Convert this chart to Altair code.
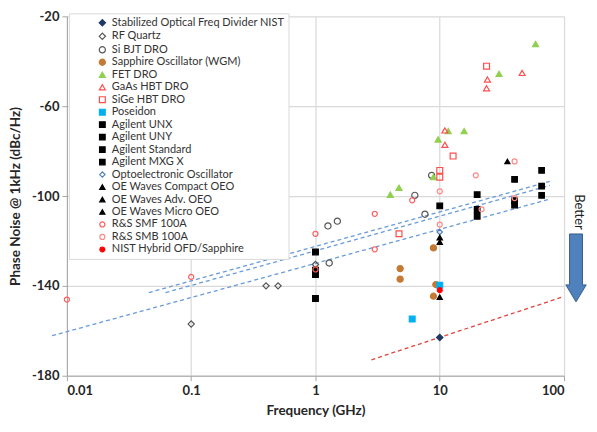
import altair as alt
import pandas as pd

series = ["Stabilized Optical Freq Divider NIST", "RF Quartz", "Si BJT DRO",
          "Sapphire Oscillator (WGM)", "FET DRO", "GaAs HBT DRO", "SiGe HBT DRO",
          "Poseidon", "Agilent UNX", "Agilent UNY", "Agilent Standard", "Agilent MXG X",
          "Optoelectronic Oscillator", "OE Waves Compact OEO", "OE Waves Adv. OEO",
          "OE Waves Micro OEO", "R&S SMF 100A", "R&S SMB 100A", "NIST Hybrid OFD/Sapphire"]
shapes = ["diamond", "diamond", "circle", "circle", "triangle-up", "triangle-up", "square",
          "square", "square", "square", "square", "square", "diamond", "triangle-up",
          "triangle-up", "triangle-up", "circle", "circle", "circle"]
fills = ["#1f3864", "transparent", "transparent", "#c47a35", "#8fd14f", "transparent",
         "transparent", "#00b0f0", "#000000", "#000000", "#000000", "#000000", "transparent",
         "#000000", "#000000", "#000000", "transparent", "transparent", "#ff0000"]
strokes = ["#1f3864", "#555555", "#555555", "#c47a35", "#8fd14f", "#ff4d4d", "#ff4d4d",
           "#00b0f0", "#000000", "#000000", "#000000", "#000000", "#4f81bd", "#000000",
           "#000000", "#000000", "#ff5b5b", "#ff8a8a", "#ff0000"]
sizes = [40, 24, 50, 50, 50, 50, 50, 55, 14, 14, 14, 14, 36, 40, 40, 40, 50, 50, 50]

ofd_x = [10]
ofd_y = [-163]
quartz_x = [0.1, 0.4, 0.5, 1]
quartz_y = [-157, -140, -140, -130.5]
sibjt_x = [1.26, 1.5, 1.29, 8.6, 6.3, 7.6]
sibjt_y = [-113.3, -111.2, -129.8, -90.8, -99.7, -108.1]
sapph_x = [8.9, 4.8, 4.8, 9.3, 8.9]
sapph_y = [-123.1, -132.3, -137, -139.4, -144.6]
fet_x = [59, 30, 11.7, 15.7, 9.7, 8.9, 4.0, 4.7]
fet_y = [-32.3, -45.6, -71.1, -71.1, -74.8, -91.6, -99.4, -96.3]
gaas_x = [46, 24.2, 23.8, 11, 11]
gaas_y = [-45.2, -48.1, -52, -70.8, -77.2]
sige_x = [23.8, 12.8, 10, 10, 4.7]
sige_y = [-42.2, -82.2, -88.6, -91.6, -116.8]
poseidon_x = [6, 10]
poseidon_y = [-154.8, -139.7]
unx_x = [1, 1, 1, 1]
unx_y = [-124.9, -133, -135, -145.6]
uny_x = [10, 20, 20, 20]
uny_y = [-104.4, -99.4, -106, -109]
std_x = [40, 40, 40]
std_y = [-92.6, -102, -104]
mxg_x = [66, 66, 66]
mxg_y = [-88.6, -95.6, -99.7]
opto_x = [10]
opto_y = [-116]
compact_x = [10]
compact_y = [-118.5]
adv_x = [10]
adv_y = [-120.5]
micro_x = [35, 10]
micro_y = [-84.6, -145]
smf_x = [0.01, 0.1, 1, 1, 3, 3, 6]
smf_y = [-146.1, -136, -116.8, -132.7, -107.9, -123.7, -101.9]
smb_x = [10, 10, 19.5, 40, 21.7, 40]
smb_y = [-97.9, -112.7, -90.8, -84.6, -105.9, -100.9]
hybrid_x = [10]
hybrid_y = [-141.9]

# trend lines (start/end)
blue_line_id = ["a", "a", "b", "b", "c", "c"]
blue_line_x = [0.0076, 74, 0.0456, 76.7, 0.0621, 76.7]
blue_line_y = [-162.2, -101.6, -143, -93.5, -143, -95.3]
red_line_x = [2.82, 98]
red_line_y = [-172.9, -144.9]

xs_list = [ofd_x, quartz_x, sibjt_x, sapph_x, fet_x, gaas_x, sige_x, poseidon_x, unx_x,
           uny_x, std_x, mxg_x, opto_x, compact_x, adv_x, micro_x, smf_x, smb_x, hybrid_x]
ys_list = [ofd_y, quartz_y, sibjt_y, sapph_y, fet_y, gaas_y, sige_y, poseidon_y, unx_y,
           uny_y, std_y, mxg_y, opto_y, compact_y, adv_y, micro_y, smf_y, smb_y, hybrid_y]

rows = []
for name, xs, ys in zip(series, xs_list, ys_list):
    for xv, yv in zip(xs, ys):
        rows.append({"series": name, "x": xv, "y": yv})
pts = pd.DataFrame(rows)

blue_df = pd.DataFrame({"id": blue_line_id, "x": blue_line_x, "y": blue_line_y})
red_df = pd.DataFrame({"x": red_line_x, "y": red_line_y})

FONT = "Lato"

leg = alt.Legend(orient="none", legendX=2, legendY=-3, title=None, fillColor="white",
                 strokeColor="#d9d9d9", padding=4, labelFont=FONT, labelFontSize=11,
                 labelColor="#333333", rowPadding=0.5, symbolOffset=24, labelOffset=4,
                 symbolStrokeWidth=1.2, labelLimit=300)

xscale = alt.Scale(type="log", domain=[0.01, 100], nice=False)
yscale = alt.Scale(domain=[-180, -20], nice=False, zero=False)
xaxis = alt.Axis(values=[0.01, 0.1, 1, 10, 100], format="~g", title="Frequency (GHz)",
                 labelPadding=4, titlePadding=6)
yaxis = alt.Axis(values=[-20, -60, -100, -140, -180], labelExpr="'' + datum.value",
                 title="Phase Noise @ 1kHz (dBc/Hz)", labelPadding=3, titlePadding=9)

X = alt.X("x:Q", scale=xscale, axis=xaxis)
Y = alt.Y("y:Q", scale=yscale, axis=yaxis)

points = alt.Chart(pts).mark_point(opacity=1, strokeWidth=1.2).encode(
    x=X, y=Y,
    shape=alt.Shape("series:N", scale=alt.Scale(domain=series, range=shapes), legend=leg),
    fill=alt.Fill("series:N", scale=alt.Scale(domain=series, range=fills), legend=leg),
    stroke=alt.Stroke("series:N", scale=alt.Scale(domain=series, range=strokes), legend=leg),
    size=alt.Size("series:N", scale=alt.Scale(domain=series, range=sizes), legend=leg),
)

blue_lines = alt.Chart(blue_df).mark_line(strokeDash=[4, 3], color="#6a9bd8", strokeWidth=1.3).encode(
    x=X, y=Y, detail="id:N")
red_line = alt.Chart(red_df).mark_line(strokeDash=[4, 3], color="#e0443e", strokeWidth=1.3).encode(
    x=X, y=Y)

better = alt.Chart(pd.DataFrame({"t": ["Better"]})).mark_text(
    angle=90, font=FONT, fontSize=13, color="#222222", align="center", baseline="middle"
).encode(x=alt.value(513), y=alt.value(196), text="t:N")

arrow_path = "M-0.19,-1 L0.19,-1 L0.19,0.5 L0.3,0.5 L0,1 L-0.3,0.5 L-0.19,0.5 Z"
arrow = alt.Chart(pd.DataFrame({"t": ["a"]})).mark_point(
    shape=arrow_path, filled=True, fill="#4f81bd", stroke="#385d8a", strokeWidth=1,
    opacity=1, size=4624
).encode(x=alt.value(510), y=alt.value(252))

chart = alt.layer(blue_lines, red_line, points, better, arrow).properties(
    width=498, height=360,
    padding={"left": 0, "top": 2, "right": 0, "bottom": 0},
).configure_view(stroke=None).configure_axis(
    labelFont=FONT, labelFontWeight="bold", labelFontSize=13, labelColor="#262626",
    titleFont=FONT, titleFontWeight="bold", titleFontSize=13.5, titleColor="#262626",
    gridColor="#d9d9d9", gridWidth=1.2, domainColor="#a6a6a6", tickColor="#a6a6a6",
    tickSize=5,
)

chart.save("out.html", embed_options={"renderer": "svg", "actions": False})
